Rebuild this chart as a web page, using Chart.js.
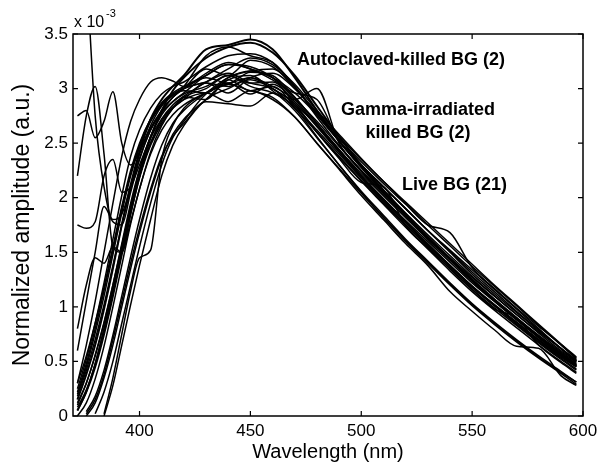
<!DOCTYPE html>
<html>
<head>
<meta charset="utf-8">
<script src="https://cdn.jsdelivr.net/npm/chart.js@4.4.1/dist/chart.umd.min.js"></script>
<style>
  html, body { margin: 0; padding: 0; background: #fff; }
  #wrap { width: 603px; height: 466px; }
</style>
</head>
<body>
<div id="wrap"><canvas id="chart" width="603" height="466"></canvas></div>
<script>
// wavelength grid (nm) shared by all spectra
var wavelength = [372, 376, 380, 384, 388, 392, 396, 400, 405, 410, 415, 420, 430, 440, 450, 460, 470, 480, 490, 500, 510, 520, 530, 540, 550, 560, 570, 580, 590, 597];

// autoclaved-killed BG (2)
var autoclaved1 = [0.15, 0.38, 0.65, 0.98, 1.35, 1.75, 2.12, 2.42, 2.72, 2.9, 3.02, 3.12, 3.36, 3.4, 3.45, 3.36, 3.1, 2.8, 2.52, 2.28, 2.05, 1.84, 1.63, 1.44, 1.25, 1.07, 0.9, 0.73, 0.57, 0.47];
var autoclaved2 = [0.05, 0.22, 0.45, 0.75, 1.1, 1.48, 1.86, 2.2, 2.55, 2.8, 2.98, 3.1, 3.28, 3.38, 3.42, 3.33, 3.12, 2.84, 2.56, 2.3, 2.07, 1.85, 1.64, 1.44, 1.24, 1.06, 0.89, 0.72, 0.56, 0.46];

// gamma-irradiated killed BG (2)
var gamma1 = [0.3, 0.55, 0.85, 1.18, 1.55, 1.92, 2.25, 2.5, 2.72, 2.86, 2.95, 3.0, 3.05, 3.02, 3.1, 3.0, 2.9, 3.0, 2.5, 2.24, 2.02, 1.82, 1.62, 1.43, 1.24, 1.06, 0.89, 0.72, 0.56, 0.46];
var gamma2 = [0.1, 0.3, 0.55, 0.85, 1.2, 1.58, 1.95, 2.26, 2.56, 2.76, 2.88, 2.96, 3.12, 3.22, 3.18, 3.08, 2.96, 2.9, 2.52, 2.3, 2.1, 1.9, 1.7, 1.5, 1.3, 1.12, 0.95, 0.78, 0.62, 0.51];

// live BG (21)
var live1 = [5.2, 4.1, 2.75, 2.1, 1.8, 1.85, 2.1, 2.4, 2.66, 2.84, 2.94, 3.0, 3.1, 3.05, 3.15, 3.12, 2.92, 2.68, 2.44, 2.2, 1.98, 1.77, 1.57, 1.37, 1.18, 1.01, 0.84, 0.68, 0.53, 0.43];
var live2 = [2.2, 2.75, 3.02, 2.4, 1.55, 1.5, 1.85, 2.18, 2.48, 2.68, 2.82, 2.92, 3.0, 3.12, 3.02, 2.96, 2.84, 2.6, 2.37, 2.15, 1.94, 1.73, 1.53, 1.33, 1.14, 0.97, 0.81, 0.65, 0.5, 0.4];
var live3 = [2.75, 2.8, 2.55, 2.7, 2.97, 2.5, 2.3, 2.42, 2.64, 2.8, 2.92, 3.0, 3.06, 3.14, 3.05, 3.0, 2.82, 2.6, 2.38, 2.16, 1.95, 1.75, 1.56, 1.37, 1.18, 1.01, 0.85, 0.69, 0.54, 0.45];
var live4 = [1.75, 1.72, 1.78, 2.2, 2.35, 2.05, 2.1, 2.3, 2.55, 2.72, 2.83, 2.9, 2.96, 2.88, 2.98, 2.9, 2.74, 2.5, 2.27, 2.04, 1.82, 1.61, 1.41, 1.21, 1.02, 0.85, 0.69, 0.54, 0.4, 0.31];
var live5 = [0.6, 1.05, 1.5, 1.92, 1.78, 1.75, 2.05, 2.35, 2.62, 2.8, 2.92, 3.0, 3.18, 3.12, 3.26, 3.2, 3.02, 2.76, 2.52, 2.3, 2.1, 1.9, 1.7, 1.52, 1.34, 1.16, 0.98, 0.8, 0.62, 0.5];
var live6 = [0.8, 1.2, 1.45, 1.4, 1.55, 1.5, 1.78, 2.08, 2.42, 2.66, 2.82, 2.92, 2.9, 3.08, 2.98, 3.02, 2.84, 2.62, 2.4, 2.18, 1.97, 1.77, 1.57, 1.38, 1.19, 1.02, 0.86, 0.7, 0.55, 0.46];
var live7 = [0.3, 0.65, 1.05, 1.5, 1.95, 2.38, 2.7, 2.9, 3.06, 3.1, 3.07, 3.02, 3.14, 3.24, 3.18, 3.1, 2.92, 2.68, 2.44, 2.2, 1.99, 1.78, 1.58, 1.38, 1.19, 1.02, 0.86, 0.7, 0.55, 0.45];
var live8 = [null, null, null, 0.02, 0.35, 0.75, 1.15, 1.45, 1.52, 2.35, 2.66, 2.82, 2.96, 3.05, 2.95, 3.04, 2.88, 2.65, 2.42, 2.2, 1.99, 1.79, 1.6, 1.41, 1.22, 1.05, 0.88, 0.72, 0.57, 0.47];
var live9 = [null, null, null, 0.0, 0.28, 0.65, 1.02, 1.38, 1.8, 2.2, 2.48, 2.66, 2.9, 3.0, 3.08, 3.0, 2.86, 2.66, 2.44, 2.22, 2.02, 1.82, 1.62, 1.43, 1.24, 1.06, 0.89, 0.73, 0.58, 0.48];
var live10 = [0.05, 0.22, 0.48, 0.8, 1.16, 1.55, 1.92, 2.25, 2.56, 2.78, 2.92, 3.02, 3.3, 3.38, 3.3, 3.24, 3.02, 2.74, 2.48, 2.25, 2.04, 1.84, 1.64, 1.45, 1.27, 1.1, 0.93, 0.76, 0.6, 0.5];
var live11 = [null, 0.0, 0.12, 0.35, 0.65, 1.0, 1.35, 1.68, 2.05, 2.36, 2.58, 2.72, 2.9, 3.08, 3.12, 2.98, 2.8, 2.55, 2.3, 2.06, 1.84, 1.62, 1.42, 1.22, 1.03, 0.86, 0.7, 0.55, 0.41, 0.31];
var live12 = [0.2, 0.45, 0.76, 1.1, 1.48, 1.86, 2.2, 2.46, 2.7, 2.85, 2.94, 2.98, 2.96, 3.1, 3.16, 3.18, 3.0, 2.78, 2.56, 2.35, 2.15, 1.96, 1.77, 1.58, 1.39, 1.2, 1.02, 0.84, 0.66, 0.53];
var live13 = [null, 0.02, 0.15, 0.38, 0.7, 1.05, 1.4, 1.72, 2.08, 2.38, 2.56, 2.68, 2.88, 2.86, 2.84, 2.96, 2.82, 2.56, 2.3, 2.05, 1.82, 1.6, 1.4, 1.2, 1.01, 0.84, 0.68, 0.53, 0.39, 0.29];
var live14 = [0.08, 0.24, 0.48, 0.8, 1.15, 1.52, 1.88, 2.2, 2.5, 2.72, 2.85, 2.93, 3.06, 3.18, 3.28, 3.22, 3.04, 2.8, 2.58, 2.36, 2.15, 1.95, 1.75, 1.56, 1.37, 1.19, 1.01, 0.83, 0.65, 0.52];
var live15 = [null, null, 0.02, 0.22, 0.5, 0.85, 1.2, 1.55, 1.95, 2.3, 2.55, 2.7, 2.95, 3.04, 3.1, 3.02, 2.9, 2.7, 2.47, 2.25, 2.04, 1.84, 1.64, 1.44, 1.25, 1.07, 0.9, 0.74, 0.59, 0.49];
var live16 = [0.25, 0.52, 0.85, 1.22, 1.62, 2.02, 2.38, 2.62, 2.82, 2.95, 3.02, 3.06, 3.2, 3.3, 3.32, 3.24, 3.02, 2.76, 2.52, 2.3, 2.1, 1.9, 1.7, 1.51, 1.32, 1.14, 0.96, 0.79, 0.62, 0.5];
var live17 = [0.12, 0.3, 0.56, 0.86, 1.2, 1.56, 1.9, 2.2, 2.5, 2.7, 2.82, 2.9, 3.05, 2.96, 3.1, 3.14, 3.0, 2.78, 2.52, 2.28, 2.07, 1.86, 1.66, 1.47, 1.28, 1.1, 0.93, 0.77, 0.62, 0.51];
var live18 = [0.18, 0.42, 0.7, 1.02, 1.38, 1.75, 2.08, 2.36, 2.62, 2.78, 2.88, 2.95, 3.02, 3.12, 3.05, 3.06, 2.86, 2.6, 2.36, 2.14, 2.1, 1.74, 1.54, 1.35, 1.16, 0.99, 0.83, 0.67, 0.52, 0.42];
var live19 = [null, 0.04, 0.18, 0.42, 0.74, 1.1, 1.46, 1.8, 2.18, 2.48, 2.68, 2.8, 2.96, 3.1, 3.16, 3.1, 2.96, 2.76, 2.54, 2.33, 2.13, 1.94, 1.75, 1.68, 1.36, 1.17, 0.99, 0.82, 0.66, 0.54];
var live20 = [0.22, 0.48, 0.8, 1.15, 1.52, 1.9, 2.22, 2.48, 2.72, 2.87, 2.96, 3.02, 3.12, 3.22, 3.2, 3.1, 2.9, 2.66, 2.42, 2.18, 1.96, 1.75, 1.55, 1.35, 1.16, 0.98, 0.9, 0.65, 0.49, 0.39];
var live21 = [0.0, 0.12, 0.34, 0.64, 1.0, 1.38, 1.76, 2.08, 2.4, 2.62, 2.76, 2.85, 2.96, 3.04, 2.98, 2.92, 2.74, 2.5, 2.26, 2.02, 1.8, 1.58, 1.38, 1.14, 0.96, 0.79, 0.64, 0.62, 0.37, 0.28];

var xTicks = [400, 450, 500, 550, 600];
var yTicks = [0, 0.5, 1, 1.5, 2, 2.5, 3, 3.5];

var annotations = [
  { text: 'Autoclaved-killed BG (2)', x: 297, y: 60, align: 'left' },
  { text: 'Gamma-irradiated', x: 418, y: 110, align: 'center' },
  { text: 'killed BG (2)', x: 418, y: 133, align: 'center' },
  { text: 'Live BG (21)', x: 402, y: 185, align: 'left' }
];

var allSeries = [autoclaved1, autoclaved2, gamma1, gamma2,
  live1, live2, live3, live4, live5, live6, live7, live8, live9, live10, live11,
  live12, live13, live14, live15, live16, live17, live18, live19, live20, live21];

var FONT = '"Liberation Sans", Arial, Helvetica, sans-serif';

var datasets = allSeries.map(function (vals, k) {
  var pts = [];
  wavelength.forEach(function (w, i) {
    if (vals[i] !== null) pts.push({ x: w, y: vals[i] });
  });
  return {
    data: pts,
    borderColor: '#000',
    borderWidth: k < 2 ? 2 : 1.5,
    pointRadius: 0,
    cubicInterpolationMode: 'monotone',
    fill: false
  };
});

// box, inward ticks, exponent and text labels
var decorations = {
  id: 'decorations',
  afterDraw: function (chart) {
    var ctx = chart.ctx;
    var a = chart.chartArea;
    var xs = chart.scales.x, ys = chart.scales.y;
    ctx.save();
    ctx.strokeStyle = '#000';
    ctx.lineWidth = 1.5;
    ctx.strokeRect(a.left, a.top, a.right - a.left, a.bottom - a.top);
    ctx.lineWidth = 1.2;
    ctx.beginPath();
    xTicks.forEach(function (v) {
      var px = xs.getPixelForValue(v);
      ctx.moveTo(px, a.bottom); ctx.lineTo(px, a.bottom - 5);
      ctx.moveTo(px, a.top); ctx.lineTo(px, a.top + 5);
    });
    yTicks.forEach(function (v) {
      var py = ys.getPixelForValue(v);
      ctx.moveTo(a.left, py); ctx.lineTo(a.left + 5, py);
      ctx.moveTo(a.right, py); ctx.lineTo(a.right - 5, py);
    });
    ctx.stroke();

    ctx.fillStyle = '#000';
    ctx.textBaseline = 'alphabetic';
    ctx.textAlign = 'left';
    ctx.font = '16px ' + FONT;
    ctx.fillText('x 10', 74, 27);
    ctx.font = '11px ' + FONT;
    ctx.fillText('-3', 106, 17);

    ctx.font = 'bold 18px ' + FONT;
    ctx.textBaseline = 'middle';
    annotations.forEach(function (t) {
      ctx.textAlign = t.align;
      ctx.fillText(t.text, t.x, t.y);
    });
    ctx.restore();
  }
};

new Chart(document.getElementById('chart'), {
  type: 'line',
  data: { datasets: datasets },
  options: {
    responsive: false,
    animation: false,
    events: [],
    layout: { padding: { left: 0, right: 20, top: 34, bottom: 0 } },
    plugins: {
      legend: { display: false },
      tooltip: { enabled: false }
    },
    scales: {
      x: {
        type: 'linear',
        min: 370,
        max: 600,
        afterBuildTicks: function (scale) {
          scale.ticks = xTicks.map(function (v) { return { value: v }; });
        },
        afterFit: function (scale) { scale.height = 50; },
        grid: { display: false, drawTicks: false },
        border: { display: false },
        ticks: {
          color: '#000', padding: 5, font: { family: FONT, size: 17 },
          callback: function (v) { return String(v); }
        },
        title: {
          display: true,
          text: 'Wavelength (nm)',
          color: '#000',
          font: { family: FONT, size: 20 },
          padding: { top: 0, bottom: 2 }
        }
      },
      y: {
        min: 0,
        max: 3.5,
        afterBuildTicks: function (scale) {
          scale.ticks = yTicks.map(function (v) { return { value: v }; });
        },
        afterFit: function (scale) { scale.width = 73; },
        grid: { display: false, drawTicks: false },
        border: { display: false },
        ticks: {
          color: '#000', padding: 5, font: { family: FONT, size: 17 },
          callback: function (v) { return String(v); }
        },
        title: {
          display: true,
          text: 'Normalized amplitude (a.u.)',
          color: '#000',
          font: { family: FONT, size: 23 },
          padding: { top: 9, bottom: 0 }
        }
      }
    }
  },
  plugins: [decorations]
});
</script>
</body>
</html>
